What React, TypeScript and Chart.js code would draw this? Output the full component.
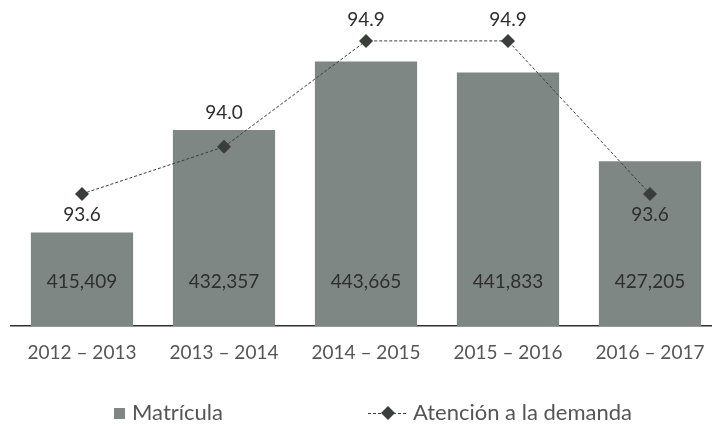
import React, { useEffect, useRef } from 'react';
import { Chart, registerables } from 'chart.js';
Chart.register(...registerables);

const categories = ['2012 – 2013', '2013 – 2014', '2014 – 2015', '2015 – 2016', '2016 – 2017'];
const matricula = [415409, 432357, 443665, 441833, 427205];
const atencion = [93.6, 94.0, 94.9, 94.9, 93.6];
const seriesNames = ['Matrícula', 'Atención a la demanda'];

const BAR_COLOR = '#7f8784';
const LINE_COLOR = '#3a3e3b';
const TEXT_COLOR = '#2e2e2e';
const LEGEND_TEXT = '#555555';
const FONT = 'Lato, "Open Sans", sans-serif';
const lineLabelOffsets = [21, -34, -21, -21, 21];

const labelsPlugin = {
  id: 'customLabels',
  afterDatasetsDraw(chart: any) {
    const ctx = chart.ctx;
    ctx.save();
    ctx.font = `19px ${FONT}`;
    ctx.fillStyle = TEXT_COLOR;
    ctx.textAlign = 'center';
    ctx.textBaseline = 'middle';
    const barMeta = chart.getDatasetMeta(0);
    const base = chart.scales.y.getPixelForValue(chart.scales.y.min);
    barMeta.data.forEach((el: any, i: number) => {
      ctx.fillText(matricula[i].toLocaleString('en-US'), el.x, base - 44);
    });
    const lineMeta = chart.getDatasetMeta(1);
    lineMeta.data.forEach((el: any, i: number) => {
      ctx.fillText(atencion[i].toFixed(1), el.x, el.y + lineLabelOffsets[i]);
    });

    // legend
    const ly = 413;
    ctx.font = `22px ${FONT}`;
    ctx.textAlign = 'left';
    ctx.fillStyle = BAR_COLOR;
    ctx.fillRect(114, ly - 5, 11, 11);
    ctx.fillStyle = LEGEND_TEXT;
    ctx.fillText(seriesNames[0], 132, ly);

    ctx.strokeStyle = LINE_COLOR;
    ctx.lineWidth = 1;
    ctx.setLineDash([3, 2]);
    ctx.beginPath();
    ctx.moveTo(368, ly + 0.5);
    ctx.lineTo(408, ly + 0.5);
    ctx.stroke();
    ctx.setLineDash([]);
    ctx.fillStyle = LINE_COLOR;
    ctx.beginPath();
    ctx.moveTo(388, ly - 7);
    ctx.lineTo(395, ly);
    ctx.lineTo(388, ly + 7);
    ctx.lineTo(381, ly);
    ctx.closePath();
    ctx.fill();
    ctx.fillStyle = LEGEND_TEXT;
    ctx.fillText(seriesNames[1], 413, ly);
    ctx.restore();
  },
};

export default function App() {
  const ref = useRef<HTMLCanvasElement>(null);
  useEffect(() => {
    if (!ref.current) return;
    const chart = new Chart(ref.current, {
      type: 'bar',
      data: {
        labels: categories,
        datasets: [
          {
            type: 'bar',
            label: seriesNames[0],
            data: matricula,
            backgroundColor: BAR_COLOR,
            yAxisID: 'y',
            order: 1,
            categoryPercentage: 1,
            barPercentage: 0.72,
          },
          {
            type: 'line',
            label: seriesNames[1],
            data: atencion,
            yAxisID: 'y2',
            order: 0,
            borderColor: LINE_COLOR,
            borderWidth: 1,
            borderDash: [3, 2],
            pointStyle: 'rectRot',
            pointRadius: 7,
            pointBackgroundColor: LINE_COLOR,
            pointBorderColor: LINE_COLOR,
            pointBorderWidth: 0,
            tension: 0,
          } as any,
        ],
      },
      options: {
        responsive: false,
        animation: false,
        layout: { padding: { left: 11, right: 19, top: 23, bottom: 0 } },
        plugins: { legend: { display: false }, tooltip: { enabled: false } },
        scales: {
          x: {
            grid: { display: false, drawTicks: false },
            border: { display: true, color: '#303030', width: 1.5 },
            ticks: { color: LEGEND_TEXT, font: { family: FONT, size: 19 }, padding: 15 },
            afterFit: (s: any) => { s.height = 100; },
          },
          y: { display: false, min: 400000, max: 450000 },
          y2: { display: false, min: 92.478, max: 95.052 },
        },
      },
      plugins: [labelsPlugin],
    });
    return () => chart.destroy();
  }, []);
  return (
    <div style={{ position: 'fixed', left: 0, top: 0, width: 712, height: 426, overflow: 'hidden', background: '#fff' }}>
      <canvas ref={ref} width={740} height={426} style={{ width: 740, height: 426, display: 'block' }} />
    </div>
  );
}
